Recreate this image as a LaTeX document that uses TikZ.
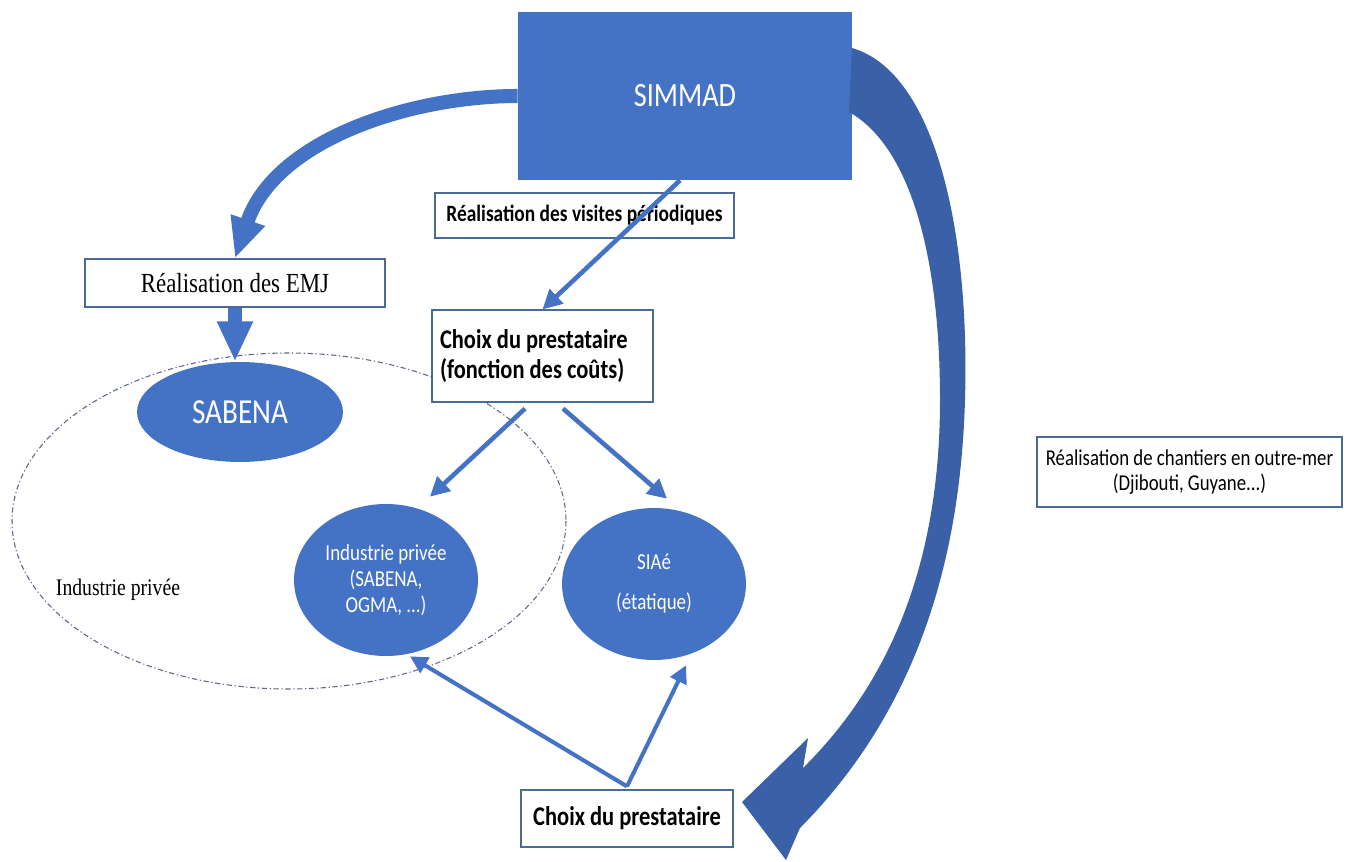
\documentclass[tikz,border=0pt]{standalone}
\usepackage{fontspec}
\setmainfont{Carlito}[FakeStretch=0.83]
\newfontfamily\serifx{Liberation Serif}[FakeStretch=0.83]
\usetikzlibrary{shapes.geometric,arrows.meta,calc}
\definecolor{fillblue}{HTML}{4472C4}
\definecolor{arcblue}{HTML}{3A60A8}
\definecolor{boxline}{HTML}{4A6A98}
\definecolor{dashcol}{HTML}{5B6784}
\begin{document}
\begin{tikzpicture}[x=0.02cm,y=-0.02cm,
  box/.style={draw=boxline, line width=0.7pt, fill=white, inner sep=0pt, text=black},
  blob/.style={ellipse, fill=fillblue, inner sep=0pt, text=white},
  fat/.style={draw=fillblue, line width=8pt, -{Triangle[length=23pt,width=19pt]}},
  slim/.style={draw=fillblue, line width=2.6pt, -{Triangle[length=11pt,width=11pt]}},
  slimmer/.style={draw=fillblue, line width=2.3pt, -{Triangle[length=10pt,width=10pt]}},
  dashdot/.style={draw=dashcol, line width=0.6pt, dash pattern=on 3pt off 1.5pt on 0.7pt off 1.5pt}
]
\useasboundingbox (0,0) rectangle (1349,862);
\fill[white] (0,0) rectangle (1349,862);

% dash-dot ellipse (private industry)
\draw[dashdot] (289,521) ellipse [x radius=277, y radius=168];
\node[font=\serifx\fontsize{13.5}{15}\selectfont] (lblind) at (118,590) {Industrie privée};

% filled ellipses
\node[blob, minimum width=4.12cm, minimum height=2cm, font=\fontsize{20}{24}\selectfont] (sabena) at (240,412) {SABENA};
\node[blob, minimum width=3.68cm, minimum height=3.04cm, align=center, font=\fontsize{13}{14.8}\selectfont] (indpriv) at (386,580) {Industrie privée\\(SABENA,\\OGMA, ...)};
\node[blob, minimum width=3.68cm, minimum height=3.04cm, align=center, font=\fontsize{13}{14.8}\selectfont] (siae) at (654,584) {SIAé\\[8pt](étatique)};

% SIMMAD
\node[fill=fillblue, minimum width=6.68cm, minimum height=3.36cm, inner sep=0pt, text=white, font=\fontsize{19.4}{23}\selectfont] (simmad) at (685,96) {SIMMAD};

% boxes
\node[box, minimum width=5.98cm, minimum height=0.9cm, font=\bfseries\fontsize{13.3}{15}\selectfont] (visites) at (584.5,215.5) {Réalisation des visites périodiques};
\node[box, minimum width=6cm, minimum height=0.96cm, font=\serifx\fontsize{15.7}{18}\selectfont] (emj) at (235,283) {Réalisation des EMJ};
\node[box, minimum width=4.42cm, minimum height=1.84cm, text width=4.1cm, align=flush left, font=\bfseries\fontsize{15.4}{17.5}\selectfont] (choix1) at (542.5,356) {Choix du prestataire\\(fonction des coûts)};
\node[box, minimum width=4.24cm, minimum height=1.14cm, font=\bfseries\fontsize{15.4}{17.5}\selectfont] (choix2) at (627,818.5) {Choix du prestataire};
\node[box, minimum width=6.1cm, minimum height=1.4cm, align=center, font=\fontsize{12.9}{14.5}\selectfont] (chantiers) at (1189.5,472) {Réalisation de chantiers en outre-mer\\(Djibouti, Guyane...)};

% big right curved arrow
\fill[arcblue] (852,48) .. controls (935,72) and (970,230) .. (965,400)
  .. controls (960,570) and (912,715) .. (800,828) -- (786,860) -- (742,802) -- (808,738) -- (803,768)
  .. controls (892,680) and (940,560) .. (940,400)
  .. controls (940,250) and (908,145) .. (849,112) -- cycle;

% left curved arrow
\draw[fat] (simmad.west) .. controls (410,96) and (275,140) .. (emj.north);
% EMJ -> SABENA
\draw[fat] (emj.south) -- (emj.south |- sabena.north);
% SIMMAD -> choix1
\draw[slim] ([xshift=-0.1cm]simmad.south) -- (choix1.north);
% choix1 -> ellipses
\draw[slim] ([xshift=-0.35cm,yshift=-0.12cm]choix1.south) -- ([xshift=0.88cm,yshift=0.14cm]indpriv.north);
\draw[slim] ([xshift=0.41cm,yshift=-0.12cm]choix1.south) -- ([xshift=0.26cm,yshift=0.18cm]siae.north);
% choix2 -> ellipses
\draw[slimmer] ([yshift=0.06cm]choix2.north) -- ([xshift=0.48cm]indpriv.south);
\draw[slimmer] ([yshift=0.06cm]choix2.north) -- ([xshift=0.64cm,yshift=-0.1cm]siae.south);
\end{tikzpicture}
\end{document}
